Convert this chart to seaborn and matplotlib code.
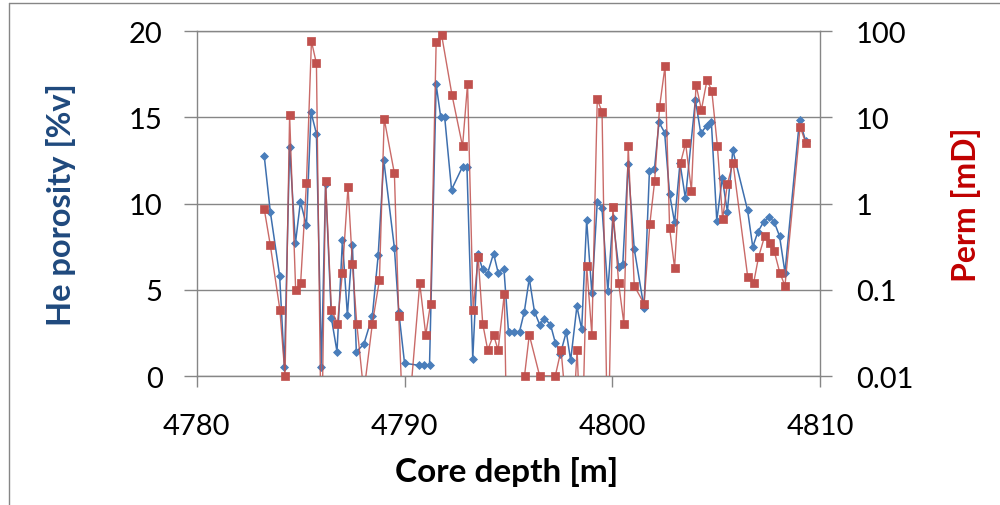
import numpy as np
import pandas as pd
import matplotlib
matplotlib.use("Agg")
import matplotlib.pyplot as plt
import seaborn as sns
from matplotlib.lines import Line2D
from matplotlib.ticker import NullLocator

# ---------------- data ----------------
por_depth = [4783.25, 4783.54, 4783.99, 4784.22, 4784.47, 4784.75, 4784.99, 4785.28, 4785.50, 4785.76,
             4786.00, 4786.20, 4786.48, 4786.75, 4787.01, 4787.25, 4787.49, 4787.68, 4788.04, 4788.45,
             4788.73, 4789.00, 4789.51, 4789.72, 4790.00, 4790.68, 4790.92, 4791.20, 4791.52, 4791.74,
             4791.93, 4792.26, 4792.79, 4793.00, 4793.28, 4793.52, 4793.75, 4793.99, 4794.28, 4794.50,
             4794.78, 4795.00, 4795.26, 4795.53, 4795.76, 4796.00, 4796.25, 4796.50, 4796.73, 4797.02,
             4797.25, 4797.50, 4797.78, 4797.99, 4798.29, 4798.52, 4798.76, 4799.01, 4799.27, 4799.50,
             4799.78, 4800.02, 4800.30, 4800.50, 4800.75, 4801.05, 4801.52, 4801.78, 4802.02, 4802.24,
             4802.51, 4802.75, 4802.99, 4803.25, 4803.51, 4803.99, 4804.25, 4804.54, 4804.76, 4805.02,
             4805.28, 4805.53, 4805.79, 4806.50, 4806.75, 4807.00, 4807.27, 4807.52, 4807.78, 4808.04,
             4808.30, 4809.00, 4809.30]
por_value = [12.74, 9.53, 5.81, 0.52, 13.30, 7.70, 10.10, 8.73, 15.30, 14.04,
             0.52, 11.13, 3.35, 1.41, 7.88, 3.52, 7.60, 1.41, 1.84, 3.48,
             6.99, 12.50, 7.43, 3.72, 0.74, 0.62, 0.62, 0.62, 16.90, 15.00,
             15.00, 10.80, 12.14, 12.14, 1.00, 7.10, 6.20, 5.94, 7.10, 6.00,
             6.20, 2.57, 2.57, 2.57, 3.72, 5.65, 3.72, 2.98, 3.33, 2.98,
             1.94, 1.30, 2.56, 0.91, 4.03, 2.71, 9.04, 4.80, 10.10, 9.72,
             4.90, 9.14, 6.29, 6.52, 12.27, 7.36, 3.95, 11.89, 11.98, 14.71,
             14.11, 10.55, 8.90, 12.35, 10.30, 16.00, 14.07, 14.52, 14.71, 9.00,
             11.48, 9.53, 13.10, 9.62, 7.49, 8.36, 8.93, 9.24, 8.93, 8.11,
             6.00, 14.85, 13.60]

# values below 0.01 mD fall off the bottom of the log axis
perm_depth = [4783.25, 4783.54, 4784.00, 4784.25, 4784.47, 4784.76, 4785.00, 4785.28, 4785.52, 4785.76,
              4786.00, 4786.20, 4786.48, 4786.77, 4787.01, 4787.28, 4787.49, 4787.70, 4788.04, 4788.45,
              4788.79, 4789.02, 4789.51, 4789.72, 4790.00, 4790.73, 4791.02, 4791.25, 4791.52, 4791.78,
              4792.28, 4792.79, 4793.03, 4793.30, 4793.54, 4793.76, 4794.00, 4794.28, 4794.50, 4794.80,
              4795.00, 4795.50, 4795.77, 4796.00, 4796.50, 4797.25, 4797.53, 4798.00, 4798.30, 4798.52,
              4798.76, 4799.01, 4799.27, 4799.50, 4799.78, 4800.02, 4800.30, 4800.55, 4800.76, 4801.05,
              4801.52, 4801.80, 4802.03, 4802.27, 4802.53, 4802.75, 4802.99, 4803.28, 4803.52, 4803.80,
              4804.02, 4804.28, 4804.55, 4804.78, 4805.05, 4805.30, 4805.53, 4805.80, 4806.51, 4806.79,
              4807.03, 4807.32, 4807.56, 4807.78, 4808.05, 4808.30, 4809.03, 4809.30]
perm_value = [0.86, 0.33, 0.059, 0.010, 10.6, 0.10, 0.119, 1.73, 76.0, 42.0,
              0.001, 1.81, 0.059, 0.0405, 0.158, 1.56, 0.20, 0.0405, 0.0064, 0.0405,
              0.129, 9.6, 2.24, 0.050, 0.0009, 0.119, 0.030, 0.069, 74.5, 90.6,
              18.2, 4.6, 24.4, 0.059, 0.24, 0.0405, 0.020, 0.030, 0.020, 0.090,
              0.0001, 0.0001, 0.010, 0.030, 0.010, 0.010, 0.020, 0.001, 0.020, 0.001,
              0.19, 0.030, 16.1, 11.6, 0.001, 0.92, 0.119, 0.0405, 4.6, 0.111,
              0.069, 0.58, 1.81, 13.3, 39.0, 0.52, 0.18, 2.98, 5.0, 1.41,
              23.8, 12.2, 27.0, 20.3, 4.6, 0.66, 1.69, 2.98, 0.14, 0.119,
              0.24, 0.416, 0.35, 0.283, 0.158, 0.111, 7.8, 5.0]

x_ticks = [4780, 4790, 4800, 4810]
por_ticks = [0, 5, 10, 15, 20]
perm_ticks = [0.01, 0.1, 1, 10, 100]
perm_tick_labels = ["0.01", "0.1", "1", "10", "100"]

# ---------------- style ----------------
sns.set_style("white")
plt.rcParams["font.family"] = ["Lato", "DejaVu Sans"]

GRID = "#868686"
BLUE = "#4A7EBB"
RED = "#C0504D"

por_df = pd.DataFrame({"depth": por_depth, "porosity": por_value})
perm_df = pd.DataFrame({"depth": perm_depth, "perm": perm_value})

fig = plt.figure(figsize=(10, 5.06), dpi=100)
ax = fig.add_axes([196.7 / 1000, 1 - 377 / 506, 623.6 / 1000, 345 / 506])
ax2 = ax.twinx()

# porosity (left axis)
sns.lineplot(data=por_df, x="depth", y="porosity", ax=ax, color="#3E6FAE", linewidth=1.1,
             sort=False, estimator=None, zorder=2)
sns.scatterplot(data=por_df, x="depth", y="porosity", ax=ax, color=BLUE, marker="D",
                s=16, edgecolor=BLUE, linewidth=0.6, zorder=3, clip_on=False)

# permeability (right, log axis)
sns.lineplot(data=perm_df, x="depth", y="perm", ax=ax2, color=RED, linewidth=1.0, alpha=0.85,
             sort=False, estimator=None, zorder=2)
perm_in = perm_df[perm_df["perm"] >= 0.01]
sns.scatterplot(data=perm_in, x="depth", y="perm", ax=ax2, color=RED, marker="s",
                s=30, edgecolor=RED, linewidth=0.5, zorder=3, clip_on=False)

ax.set_xlim(4780, 4810)
ax.set_ylim(0, 20)
ax2.set_yscale("log")
ax2.set_ylim(0.01, 100)

ax.set_xticks(x_ticks)
ax.set_xticklabels([str(t) for t in x_ticks])
ax.set_yticks(por_ticks)
ax.set_yticklabels([str(t) for t in por_ticks])
ax2.set_yticks(perm_ticks)
ax2.set_yticklabels(perm_tick_labels)
ax2.yaxis.set_minor_locator(NullLocator())

ax.set_axisbelow(True)
ax.yaxis.grid(True, color=GRID, linewidth=1.0)
ax.xaxis.grid(False)

for s in ax.spines.values():
    s.set_visible(True)
    s.set_color(GRID)
    s.set_linewidth(1.0)
for s in ax2.spines.values():
    s.set_visible(False)

ax.tick_params(axis="y", which="major", direction="out", left=True, length=9.5, width=1,
               color=GRID, pad=15, labelsize=21, labelcolor="black")
ax.tick_params(axis="x", which="major", direction="out", bottom=True, length=8, width=1,
               color=GRID, pad=18.5, labelsize=21, labelcolor="black")
ax2.tick_params(axis="y", which="major", direction="out", right=True, length=8.5, width=1,
                color=GRID, pad=17, labelsize=21, labelcolor="black")

ax.set_xlabel("Core depth [m]", fontsize=24, fontweight="bold", color="black", va="baseline")
ax.xaxis.set_label_coords(0.4968, -0.304)
ax.set_ylabel("He porosity [%v]", fontsize=23.5, fontweight="bold", color="#1F497D", va="center")
ax.yaxis.set_label_coords(-0.218, 0.5)
ax2.set_ylabel("Perm [mD]", fontsize=23, fontweight="bold", color="#C00000", va="center",
               rotation=90)
ax2.yaxis.set_label_coords(1.2337, 0.5)

# chart-area border
fig.add_artist(Line2D([9 / 1000, 1.0], [1 - 4 / 506, 1 - 4 / 506], transform=fig.transFigure,
                      color=GRID, linewidth=1.0))
fig.add_artist(Line2D([9 / 1000, 9 / 1000], [0.0, 1 - 4 / 506], transform=fig.transFigure,
                      color=GRID, linewidth=1.0))

fig.savefig("out.png", dpi=100)
